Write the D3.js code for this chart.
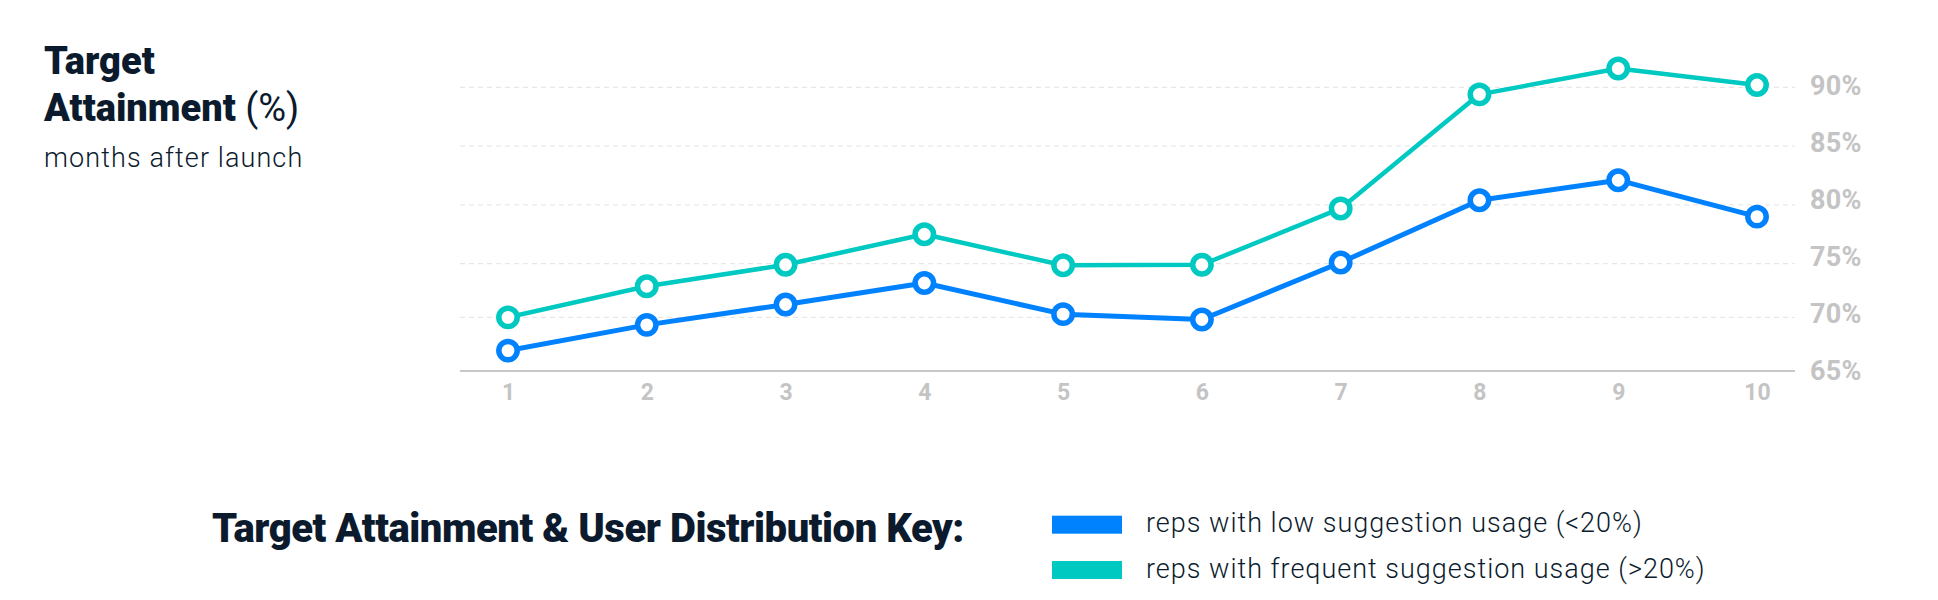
<!DOCTYPE html>
<html><head><meta charset="utf-8">
<script src="https://cdn.jsdelivr.net/npm/d3@7"></script>
<style>body{margin:0;background:#fff;} svg{display:block;font-family:Roboto,sans-serif;}</style>
</head><body><svg id="chart" width="1938" height="600"></svg>
<script>
const months = [1, 2, 3, 4, 5, 6, 7, 8, 9, 10];
const lowUsage = [66.9, 69.3, 71.2, 73.2, 70.3, 69.8, 75.1, 80.4, 82.1, 79.0];
const frequentUsage = [70.0, 72.9, 74.9, 77.5, 74.85, 74.9, 79.7, 89.4, 91.6, 90.2];
const yTicks = [65, 70, 75, 80, 85, 90];
const seriesNames = ["reps with low suggestion usage (<20%)", "reps with frequent suggestion usage (>20%)"];
const seriesColors = ["#0082ff", "#00c9c1"];

const svg = d3.select("#chart");
const ink = "#0b1b2d";
const gray = "#c4c4c4";

const x = d3.scaleLinear().domain([1, 10]).range([508, 1757]);
const y = d3.scaleLinear().domain([65, 75, 90]).range([371, 263.7, 87.3]);
const yLab = d3.scaleLinear().domain([65, 90]).range([370, 85]);

// grid
svg.append("g").selectAll("line").data(yTicks.filter(d => d > 65)).join("line")
  .attr("x1", 460).attr("x2", 1795)
  .attr("y1", d => y(d)).attr("y2", d => y(d))
  .attr("stroke", "#e2e2e2").attr("stroke-width", 1).attr("stroke-dasharray", "5,4");
svg.append("line").attr("x1", 460).attr("x2", 1795).attr("y1", y(65)).attr("y2", y(65))
  .attr("stroke", "#c8c8c8").attr("stroke-width", 2);

// y axis labels
const yAxis = svg.append("g").attr("transform", "translate(1810,0)")
  .call(d3.axisRight(yLab).tickValues(yTicks).tickSize(0).tickPadding(0).tickFormat(d => d + "%"));
yAxis.select(".domain").remove();
yAxis.selectAll("text").attr("fill", gray).attr("font-size", 27).attr("font-weight", 700)
  .attr("font-family", "Roboto").attr("letter-spacing", 0.3).attr("dy", "0.36em");

// x axis labels
const xAxis = svg.append("g").attr("transform", "translate(0,392)")
  .call(d3.axisBottom(x).tickValues(months).tickSize(0).tickPadding(0).tickFormat(d3.format("d")));
xAxis.select(".domain").remove();
xAxis.selectAll("text").attr("fill", gray).attr("font-size", 23).attr("font-weight", 700)
  .attr("font-family", "Roboto").attr("dy", "0.36em");

// series
const series = [
  { name: seriesNames[1], values: frequentUsage, color: seriesColors[1], w: 4.5 },
  { name: seriesNames[0], values: lowUsage, color: seriesColors[0], w: 5 }
];
const line = d3.line().x((d, i) => x(months[i])).y(d => y(d));
series.forEach(s => {
  svg.append("path").datum(s.values).attr("d", line).attr("fill", "none")
    .attr("stroke", s.color).attr("stroke-width", s.w).attr("stroke-linejoin", "round");
  svg.append("g").selectAll("circle").data(s.values).join("circle")
    .attr("cx", (d, i) => x(months[i])).attr("cy", d => y(d)).attr("r", 9.2)
    .attr("fill", "#fff").attr("stroke", s.color).attr("stroke-width", 5.5);
});

// title
svg.append("text").attr("x", 44).attr("y", 74).attr("fill", ink).attr("font-size", 38)
  .attr("font-weight", 900).text("Target");
const t2 = svg.append("text").attr("x", 44).attr("y", 120.7).attr("fill", ink).attr("font-size", 38);
t2.append("tspan").attr("font-weight", 900).text("Attainment");
t2.append("tspan").attr("font-weight", 400).text(" (%)");
svg.append("text").attr("x", 44).attr("y", 166.7).attr("fill", ink).attr("font-size", 27)
  .attr("font-weight", 300).attr("letter-spacing", 1.1).text("months after launch");

// legend
svg.append("text").attr("x", 212).attr("y", 541.7).attr("fill", ink).attr("font-size", 40)
  .attr("font-weight", 900).attr("letter-spacing", -0.45).text("Target Attainment & User Distribution Key:");
const leg = svg.append("g");
seriesNames.forEach((n, i) => {
  leg.append("rect").attr("x", 1052).attr("y", 515.7 + i * 45.3).attr("width", 70).attr("height", 18)
    .attr("fill", seriesColors[i]);
  leg.append("text").attr("x", 1146).attr("y", 531.7 + i * 46).attr("fill", ink)
    .attr("font-size", 27).attr("font-weight", 300).attr("letter-spacing", 1).text(n);
});
</script></body></html>
